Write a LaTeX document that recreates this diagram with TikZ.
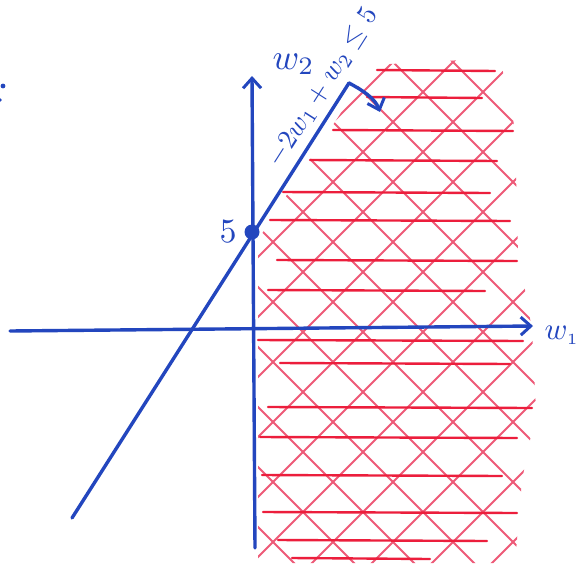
\documentclass[tikz,border=0pt]{standalone}
\usetikzlibrary{arrows.meta}
\definecolor{penblue}{RGB}{35,70,190}
\definecolor{penred}{RGB}{236,30,60}
\definecolor{penpink}{RGB}{238,90,120}
\begin{document}
\begin{tikzpicture}[x=1pt,y=-1pt,
  blueline/.style={penblue,line width=3.4pt,line cap=round},
  hatchh/.style={penred,line width=2.4pt,line cap=round},
  hatchd/.style={penpink,line width=2pt,line cap=round},
  tip/.style={-{Straight Barb[length=10pt,width=18pt,line width=3pt]}},
  lab/.style={text=penblue,inner sep=0pt}]
\useasboundingbox (0,0) rectangle (576,563);
\fill[white] (0,0) rectangle (576,563);
% red hatching: diagonals
\begin{scope}
\clip (258,563) -- (258,240) -- (290,190) -- (333,125) -- (372,65) -- (500,58)
  -- (515,130) -- (518,250) -- (532,330) -- (536,410) -- (522,480) -- (515,563) -- cycle;
\foreach \c in {-511,-451,...,349} \draw[hatchd] (200,200+\c) -- (620,620+\c);
\foreach \c in {275,335,...,1175} \draw[hatchd] (200,\c-200) -- (620,\c-620);
\end{scope}
% red hatching: horizontals
\foreach \ya/\xa/\xb in {70/377/495, 97/367/482, 130/333/513, 160/310/497,
  192/283/490, 220/270/510, 260/277/517, 290/268/485, 340/258/523,
  363/280/510, 407/268/532, 437/260/517, 475/262/502, 512/263/517,
  540/278/487, 558/292/430}
  \draw[hatchh] (\xa,\ya) -- (\xb,\ya+1);
% axes
\coordinate (w1s) at (10,331);
\coordinate (w1e) at (533,326);
\coordinate (w2s) at (255,548);
\coordinate (w2e) at (252,76);
\draw[blueline,tip] (w1s) -- (w1e);
\draw[blueline,tip] (w2s) -- (w2e);
\node[lab,anchor=west,scale=3.1] (w1) at (544,335) {$w_{\scriptscriptstyle 1}$};
\node[lab,anchor=west,scale=3.6] (w2) at (272,64) {$w_2$};
% constraint line
\coordinate (ls) at (72,518);
\coordinate (le) at (349,83);
\draw[blueline] (ls) -- (le);
\coordinate (ae) at (380,112);
\draw[blueline,tip] (le) .. controls (362,90) and (375,98) .. (ae);
\node[lab,rotate=57.5,scale=2.75] (ineq) at (323,88) {$-2w_1+w_2\le 5$};
% point
\node[circle,fill=penblue,minimum size=15pt,inner sep=0pt] (p) at (252,232) {};
\node[lab,scale=3.4] (five) at (228,232) {$5$};
% stray marks at left edge
\fill[penblue] (3,86) circle (2.4pt);
\fill[penblue] (0,100) circle (1.8pt);
\end{tikzpicture}
\end{document}
